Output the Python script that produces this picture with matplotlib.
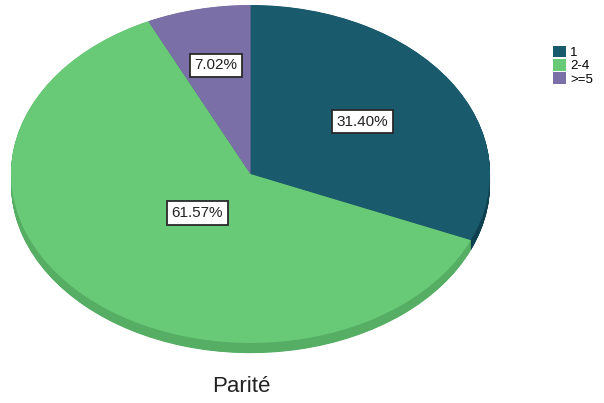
import matplotlib
matplotlib.use("Agg")
import matplotlib.pyplot as plt
import numpy as np

# Parity distribution
categories = ["1", "2-4", ">=5"]
percentages = [31.40, 61.57, 7.02]
title = "Parité"

top_colors = ["#195a6d", "#68c977", "#7a6fa6"]
side_colors = ["#0f4050", "#55ae63", "#5e5488"]
label_radius = [0.56, 0.32, 0.66]

plt.rcParams["font.family"] = ["Liberation Sans", "DejaVu Sans"]

fig = plt.figure(figsize=(6.04, 4.03), dpi=100)
ax = fig.add_axes([11 / 604, 60 / 403, 479 / 604, 338 / 403])

# Stacked copies below the top surface give the pie its thickness
depth = 0.06
for d in np.linspace(depth, 0.002, 25):
    ax.pie(percentages, colors=side_colors, startangle=90, counterclock=False,
           center=(0, -d), wedgeprops=dict(linewidth=0), normalize=True)

wedges, _ = ax.pie(percentages, colors=top_colors, startangle=90, counterclock=False,
                   center=(0, 0), wedgeprops=dict(linewidth=0), normalize=True)

for w, pct, r in zip(wedges, percentages, label_radius):
    mid = np.deg2rad((w.theta1 + w.theta2) / 2)
    ax.text(r * np.cos(mid), r * np.sin(mid), f"{pct:.2f}%", ha="center", va="center",
            fontsize=11, color="#222222", zorder=10,
            bbox=dict(boxstyle="square,pad=0.3", facecolor="white", edgecolor="#2a2a2a", linewidth=1.3))

ax.set_aspect("auto")
ax.set_xlim(-1, 1)
ax.set_ylim(-1, 1)
ax.axis("off")

fig.legend(wedges, categories, loc="upper left", bbox_to_anchor=(553 / 604, 1 - 46 / 403),
           frameon=False, fontsize=9.5, handlelength=0.95, handleheight=0.95,
           handletextpad=0.35, labelspacing=0.0, borderaxespad=0, borderpad=0)

fig.text(241 / 604, 1 - 386 / 403, title, ha="center", va="center", fontsize=16, color="#222222")

fig.savefig("out.png", dpi=100, facecolor="white")
